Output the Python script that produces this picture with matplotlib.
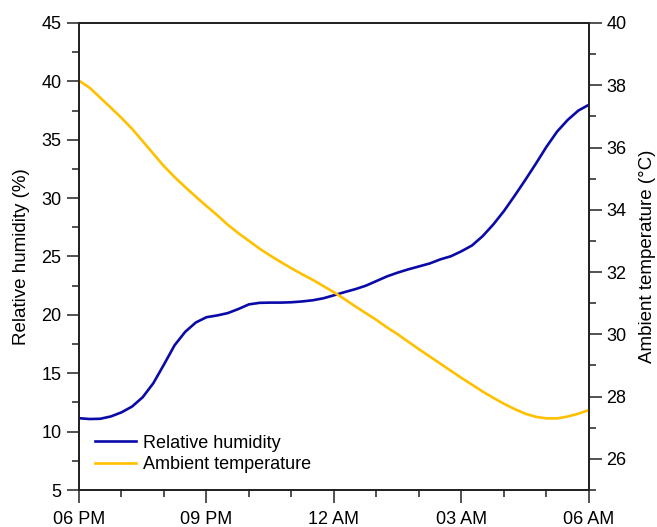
import numpy as np
from matplotlib import pyplot as plt
from matplotlib.ticker import MultipleLocator

plt.rcParams['font.family'] = ['Liberation Sans', 'DejaVu Sans']

# readings every 15 min, hours after 06 PM
hours = np.arange(0, 12.25, 0.25)
humidity = [11.15, 11.08, 11.1, 11.3, 11.65, 12.15, 12.95, 14.15,
            15.75, 17.4, 18.55, 19.35, 19.8, 19.95, 20.15, 20.5,
            20.9, 21.03, 21.05, 21.05, 21.08, 21.15, 21.25, 21.42,
            21.68, 21.95, 22.2, 22.5, 22.9, 23.3, 23.62, 23.9,
            24.15, 24.4, 24.75, 25.02, 25.45, 25.95, 26.75, 27.75,
            28.9, 30.2, 31.55, 32.95, 34.4, 35.7, 36.7, 37.5, 38.0]
temperature = [38.15, 37.92, 37.6, 37.28, 36.95, 36.6, 36.2, 35.8,
               35.4, 35.05, 34.73, 34.42, 34.12, 33.83, 33.52, 33.25,
               33.0, 32.75, 32.53, 32.32, 32.12, 31.93, 31.75, 31.55,
               31.35, 31.13, 30.9, 30.68, 30.46, 30.22, 30.0, 29.76,
               29.52, 29.29, 29.06, 28.83, 28.6, 28.38, 28.16, 27.96,
               27.77, 27.6, 27.45, 27.35, 27.3, 27.3, 27.36, 27.45, 27.57]
xtick_pos = [0, 3, 6, 9, 12]
xtick_labels = ['06 PM', '09 PM', '12 AM', '03 AM', '06 AM']

blue = '#0a0aa8'
yellow = '#ffc000'

fig = plt.figure(figsize=(6.57, 5.27), dpi=100)
ax = fig.add_axes([0.1202, 0.0702, 0.7763, 0.8862])
ax2 = ax.twinx()

l1, = ax.plot(hours, humidity, color=blue, lw=1.9, solid_joinstyle='round',
              label='Relative humidity')
l2, = ax2.plot(hours, temperature, color=yellow, lw=1.9, solid_joinstyle='round',
               label='Ambient temperature')

ax.set_xlim(0, 12)
ax.set_ylim(5, 45)
ax2.set_ylim(25, 40)

ax.set_xticks(xtick_pos)
ax.set_xticklabels(xtick_labels)
ax.xaxis.set_minor_locator(MultipleLocator(1))
ax.yaxis.set_major_locator(MultipleLocator(5))
ax.yaxis.set_minor_locator(MultipleLocator(2.5))
ax2.set_yticks(np.arange(26, 41, 2))
ax2.yaxis.set_minor_locator(MultipleLocator(1))

for a in (ax, ax2):
    a.tick_params(which='major', direction='out', length=9, width=1.1, labelsize=13, color='#222222')
    a.tick_params(which='minor', direction='out', length=5, width=1.1, color='#222222')
    for s in a.spines.values():
        s.set_linewidth(1.3)
        s.set_color('#222222')
ax.tick_params(axis='x', pad=6)

ax.set_ylabel('Relative humidity (%)', fontsize=13.5, labelpad=8)
ax2.set_ylabel('Ambient temperature (°C)', fontsize=13.5, labelpad=9)

ax.legend(handles=[l1, l2], loc='lower left', bbox_to_anchor=(0.01, 0.013),
          frameon=False, fontsize=13, handlelength=2.3, handletextpad=0.35,
          labelspacing=0.25, borderaxespad=0.2)

fig.savefig('out.png', dpi=100)
